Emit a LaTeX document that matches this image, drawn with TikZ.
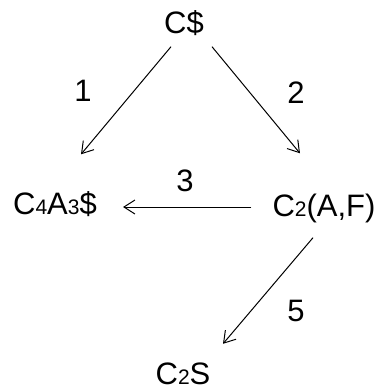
\documentclass[tikz,border=0pt]{standalone}
\usepackage{fontspec}
\setmainfont{Liberation Sans}
\usetikzlibrary{arrows.meta}
\newcommand{\smalldig}[1]{{\fontsize{21}{21}\selectfont #1}}

\begin{document}
\begin{tikzpicture}[x=1pt,y=1pt,>={Straight Barb[length=11pt,width=14pt]},
    phase/.style={inner sep=0pt,text height=22pt,text depth=0pt,font=\fontsize{31}{33}\selectfont},
    arr/.style={->,line width=1pt}]
    \useasboundingbox (0,0) rectangle (377,-392);
    \node[phase] (cs) at (184,-22) {C\$};
    \node[phase] (caa) at (55,-203) {C\smalldig{4}A\smalldig{3}\$};
    \node[phase] (caf) at (324,-205) {C\smalldig{2}(A,F)};
    \node[phase] (cts) at (183,-373) {C\smalldig{2}S};
    \node[phase] (l1) at (83,-90) {1};
    \node[phase] (l2) at (296,-92) {2};
    \node[phase] (l3) at (185,-180) {3};
    \node[phase] (l5) at (296,-310) {5};
    \draw[arr] ([shift={(-13pt,-13.5pt)}]cs.south) -- ([shift={(26pt,37.5pt)}]caa.north);
    \draw[arr] ([shift={(28pt,-13.5pt)}]cs.south) -- ([shift={(-24pt,40.5pt)}]caf.north);
    \draw[arr] ([shift={(-21pt,-2pt)}]caf.west) -- ([shift={(26pt,-4pt)}]caa.east);
    \draw[arr] ([shift={(-11pt,-21.5pt)}]caf.south) -- ([shift={(40pt,18pt)}]cts.north);
  \end{tikzpicture}
\end{document}
